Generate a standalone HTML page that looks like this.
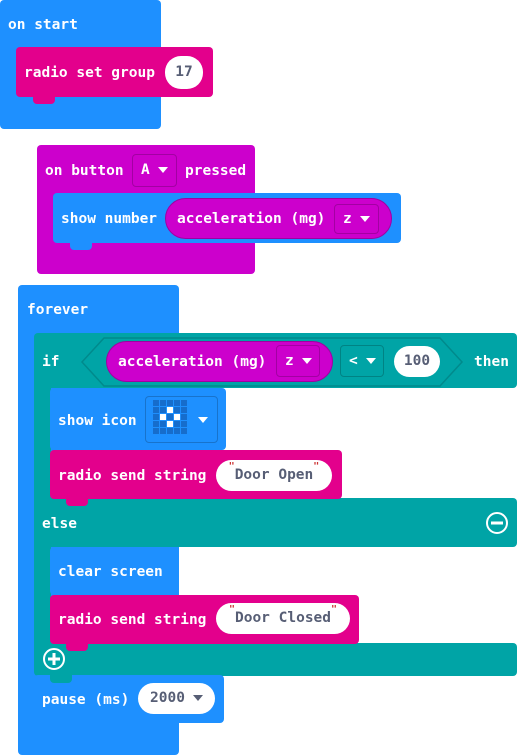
<!DOCTYPE html>
<html><head><meta charset="utf-8"><style>
body{margin:0;width:517px;height:755px;background:#fff;position:relative;overflow:hidden;font-family:"DejaVu Sans Mono","Liberation Mono",monospace;font-weight:bold;font-size:14.5px}
.b{position:absolute;border-radius:4px;box-sizing:border-box}
.blue{background:#1e90ff}
.pink{background:#e3008c}
.purp{background:#cc00cc}
.teal{background:#00a4a6}
.t{position:absolute;color:#fff;line-height:16px;white-space:nowrap}
.ov{position:absolute;background:#fff;border-radius:16px;color:#575e75;text-align:center;line-height:30px;font-size:14.5px;white-space:nowrap}
.dd{position:absolute;border:1px solid rgba(0,0,0,.2);border-radius:4px;color:#fff;line-height:30px;box-sizing:border-box;padding-left:8px}
.tri{display:inline-block;width:0;height:0;border-left:5px solid transparent;border-right:5px solid transparent;border-top:6px solid #fff;margin-left:8px;vertical-align:middle}
.n{position:absolute;width:22px;height:8px;border-radius:0 0 4px 4px}
</style></head><body>

<!-- on start -->
<div class="b blue" style="left:0;top:0;width:161px;height:129px"></div>
<div class="t" style="left:8px;top:17px">on start</div>
<div class="b pink" style="left:16px;top:47px;width:197px;height:50px"></div>
<div class="n" style="left:33px;top:96px;background:#e3008c"></div>
<div class="t" style="left:24px;top:65px">radio set group</div>
<div class="ov" style="left:165px;top:56px;width:38px;height:33px;line-height:33px">17</div>

<!-- on button -->
<div class="b purp" style="left:37px;top:145px;width:218px;height:129px"></div>
<div class="t" style="left:45px;top:163px">on button</div>
<div class="dd" style="left:132px;top:154px;width:45px;height:33px;line-height:31px">A<span class="tri"></span></div>
<div class="t" style="left:185px;top:163px">pressed</div>
<div class="b blue" style="left:53px;top:193px;width:348px;height:50px"></div>
<div class="n" style="left:70px;top:242px;background:#1e90ff"></div>
<div class="t" style="left:61px;top:211px">show number</div>
<div class="b" style="left:165px;top:198px;width:227px;height:41px;border-radius:21px;background:#cc00cc;border:1px solid #a000a0"></div>
<div class="t" style="left:177px;top:211px">acceleration (mg)</div>
<div class="dd" style="left:334px;top:204px;width:45px;height:30px;line-height:28px">z<span class="tri"></span></div>

<!-- forever -->
<div class="b blue" style="left:18px;top:285px;width:161px;height:470px"></div>
<div class="t" style="left:27px;top:302px">forever</div>

<!-- if -->
<div class="b teal" style="left:34px;top:333px;width:483px;height:55px"></div>
<div class="b teal" style="left:34px;top:380px;width:17px;height:290px;border-radius:0"></div>
<div class="b teal" style="left:34px;top:498px;width:483px;height:49px"></div>
<div class="b teal" style="left:34px;top:643px;width:483px;height:33px"></div>
<div class="t" style="left:42px;top:354px">if</div>
<svg style="position:absolute;left:80px;top:337px" width="384" height="50"><polygon points="2,25 24,1 360,1 382,25 360,49 24,49" fill="#00a4a6" stroke="#008a8c" stroke-width="1.5"/></svg>
<div class="b" style="left:106px;top:341px;width:227px;height:41px;border-radius:21px;background:#cc00cc;border:1px solid #a000a0"></div>
<div class="t" style="left:118px;top:354px">acceleration (mg)</div>
<div class="dd" style="left:276px;top:345px;width:44px;height:32px">z<span class="tri"></span></div>
<div class="dd" style="left:340px;top:345px;width:44px;height:32px">&lt;<span class="tri"></span></div>
<div class="ov" style="left:394px;top:346px;width:46px;height:31px;line-height:31px">100</div>
<div class="t" style="left:474px;top:354px">then</div>

<!-- show icon -->
<div class="b blue" style="left:50px;top:388px;width:176px;height:62px"></div>
<div class="t" style="left:58px;top:413px">show icon</div>
<div class="b" style="left:145px;top:396px;width:73px;height:47px;border:1px solid rgba(0,0,0,.2)"></div>
<svg style="position:absolute;left:153px;top:400px" width="36" height="36">
<g fill="#1565c0" opacity="0.8">
<rect x="0" y="0" width="6" height="6"/><rect x="7" y="0" width="6" height="6"/><rect x="14" y="0" width="6" height="6"/><rect x="21" y="0" width="6" height="6"/><rect x="28" y="0" width="6" height="6"/>
<rect x="0" y="7" width="6" height="6"/><rect x="7" y="7" width="6" height="6"/><rect x="21" y="7" width="6" height="6"/><rect x="28" y="7" width="6" height="6"/>
<rect x="0" y="14" width="6" height="6"/><rect x="14" y="14" width="6" height="6"/><rect x="28" y="14" width="6" height="6"/>
<rect x="0" y="21" width="6" height="6"/><rect x="7" y="21" width="6" height="6"/><rect x="21" y="21" width="6" height="6"/><rect x="28" y="21" width="6" height="6"/>
<rect x="0" y="28" width="6" height="6"/><rect x="7" y="28" width="6" height="6"/><rect x="14" y="28" width="6" height="6"/><rect x="21" y="28" width="6" height="6"/><rect x="28" y="28" width="6" height="6"/>
</g>
<g fill="#fff"><rect x="14" y="7" width="6" height="6"/><rect x="7" y="14" width="6" height="6"/><rect x="21" y="14" width="6" height="6"/><rect x="14" y="21" width="6" height="6"/></g>
</svg>
<span class="tri" style="position:absolute;left:198px;top:417px;margin:0"></span>

<!-- radio send Door Open -->
<div class="b pink" style="left:50px;top:450px;width:292px;height:49px"></div>
<div class="n" style="left:66px;top:498px;background:#e3008c"></div>
<div class="t" style="left:58px;top:468px">radio send string</div>
<div class="ov" style="left:216px;top:460px;width:116px;height:31px;line-height:31px"><span style="color:#c33;font-size:10px;vertical-align:top;line-height:14px">"</span>Door Open<span style="color:#c33;font-size:10px;vertical-align:top;line-height:14px">"</span></div>

<!-- else -->
<div class="t" style="left:42px;top:516px">else</div>
<svg style="position:absolute;left:485px;top:511px" width="24" height="24"><circle cx="12" cy="12" r="10" fill="none" stroke="#fff" stroke-width="2"/><rect x="6" y="10.5" width="12" height="3" fill="#fff"/></svg>

<div class="b blue" style="left:50px;top:547px;width:122px;height:48px"></div>
<div class="t" style="left:58px;top:564px">clear screen</div>
<div class="b pink" style="left:50px;top:595px;width:309px;height:49px"></div>
<div class="n" style="left:66px;top:643px;background:#e3008c"></div>
<div class="t" style="left:58px;top:612px">radio send string</div>
<div class="ov" style="left:216px;top:603px;width:134px;height:31px;line-height:31px"><span style="color:#c33;font-size:10px;vertical-align:top;line-height:14px">"</span>Door Closed<span style="color:#c33;font-size:10px;vertical-align:top;line-height:14px">"</span></div>
<svg style="position:absolute;left:42px;top:647px" width="24" height="24"><circle cx="12" cy="12" r="10" fill="none" stroke="#fff" stroke-width="2"/><rect x="6" y="10.5" width="12" height="3" fill="#fff"/><rect x="10.5" y="6" width="3" height="12" fill="#fff"/></svg>

<!-- pause -->
<div class="b blue" style="left:34px;top:675px;width:190px;height:48px"></div>
<div class="n" style="left:50px;top:675px;background:#00a4a6"></div>
<div class="n" style="left:50px;top:722px;background:#1e90ff"></div>
<div class="t" style="left:42px;top:692px">pause (ms)</div>
<div class="ov" style="left:138px;top:683px;width:77px;height:31px;line-height:31px">2000<span class="tri" style="border-top-color:#575e75"></span></div>

</body></html>
